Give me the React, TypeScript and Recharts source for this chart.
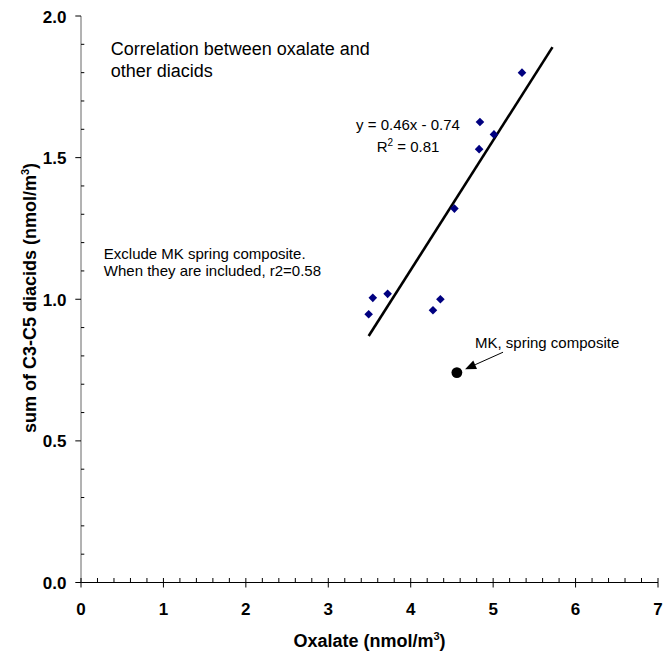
import { ScatterChart, Scatter, XAxis, YAxis, ReferenceLine } from "recharts";

// oxalate vs sum of C3-C5 diacids (nmol/m3), MK spring composite excluded from fit
const OXALATE = [5.35, 4.84, 5.01, 4.83, 4.53, 3.72, 3.54, 4.36, 3.49, 4.27];
const DIACIDS = [1.8, 1.626, 1.582, 1.53, 1.32, 1.019, 1.005, 1.0, 0.947, 0.961];

const MK_OXALATE = [4.56];
const MK_DIACIDS = [0.741];

// trendline end points as drawn
const FIT_X = [3.49, 5.72];
const FIT_Y = [0.87, 1.89];

// arrow pointing at the MK point
const ARROW_X = [5.12, 4.66];
const ARROW_Y = [0.813, 0.753];

const X_TICKS = [
  0, 0.2, 0.4, 0.6, 0.8, 1, 1.2, 1.4, 1.6, 1.8, 2, 2.2, 2.4, 2.6, 2.8, 3, 3.2,
  3.4, 3.6, 3.8, 4, 4.2, 4.4, 4.6, 4.8, 5, 5.2, 5.4, 5.6, 5.8, 6, 6.2, 6.4, 6.6,
  6.8, 7,
];
const Y_TICKS = [
  0, 0.1, 0.2, 0.3, 0.4, 0.5, 0.6, 0.7, 0.8, 0.9, 1, 1.1, 1.2, 1.3, 1.4, 1.5,
  1.6, 1.7, 1.8, 1.9, 2,
];

const FONT = "'Liberation Sans', Arial, Helvetica, sans-serif";

const points = OXALATE.map((x, i) => ({ x, y: DIACIDS[i] }));
const mkPoints = MK_OXALATE.map((x, i) => ({ x, y: MK_DIACIDS[i] }));
const fitPoints = FIT_X.map((x, i) => ({ x, y: FIT_Y[i] }));

function XTick(props: any) {
  const { x, y, payload } = props;
  const v = payload.value as number;
  const major = Math.abs(v - Math.round(v)) < 1e-6;
  return (
    <g>
      <line x1={x} x2={x} y1={y - 4.5} y2={major ? y + 5 : y} stroke="#000" />
      {major && (
        <text
          x={x}
          y={y + 32.5}
          textAnchor="middle"
          fontFamily={FONT}
          fontWeight="bold"
          fontSize={17}
          fill="#000"
        >
          {Math.round(v)}
        </text>
      )}
    </g>
  );
}

function YTick(props: any) {
  const { x, y, payload } = props;
  const v = payload.value as number;
  const major = Math.abs(v * 2 - Math.round(v * 2)) < 1e-6;
  return (
    <g>
      <line
        x1={major ? x - 5.7 : x}
        x2={major ? x : x + 3.3}
        y1={y}
        y2={y}
        stroke="#000"
      />
      {major && (
        <text
          x={x - 14.5}
          y={y + 6.5}
          textAnchor="end"
          fontFamily={FONT}
          fontWeight="bold"
          fontSize={17}
          fill="#000"
        >
          {v.toFixed(1)}
        </text>
      )}
    </g>
  );
}

function Diamond(props: any) {
  const { cx, cy } = props;
  const r = 4.3;
  return (
    <path
      d={`M${cx},${cy - r}L${cx + r},${cy}L${cx},${cy + r}L${cx - r},${cy}Z`}
      fill="#000080"
    />
  );
}

function Dot(props: any) {
  const { cx, cy } = props;
  return <circle cx={cx} cy={cy} r={5.4} fill="#000" />;
}

function Arrow(props: any) {
  const { x1, y1, x2, y2 } = props;
  const ang = Math.atan2(y2 - y1, x2 - x1);
  const len = 11;
  const half = 4.6;
  const bx = x2 - len * Math.cos(ang);
  const by = y2 - len * Math.sin(ang);
  const px = -Math.sin(ang) * half;
  const py = Math.cos(ang) * half;
  return (
    <g>
      <line x1={x1} y1={y1} x2={bx} y2={by} stroke="#000" strokeWidth={1} />
      <polygon
        points={`${x2},${y2} ${bx + px},${by + py} ${bx - px},${by - py}`}
        fill="#000"
      />
    </g>
  );
}

export default function App() {
  return (
    <div style={{ position: "absolute", left: 0, top: 0, background: "#fff" }}>
      <ScatterChart
        width={665}
        height={651}
        margin={{ top: 16, right: 7, bottom: 0, left: 0 }}
      >
        <XAxis
          type="number"
          dataKey="x"
          domain={[0, 7]}
          ticks={X_TICKS}
          interval={0}
          tickSize={0}
          tickMargin={0}
          tickLine={false}
          tick={XTick}
          height={68.5}
          stroke="#000"
          allowDataOverflow
        />
        <YAxis
          type="number"
          dataKey="y"
          domain={[0, 2]}
          ticks={Y_TICKS}
          interval={0}
          tickSize={0}
          tickMargin={0}
          tickLine={false}
          tick={YTick}
          width={81}
          stroke="#666"
          allowDataOverflow
        />
        <Scatter
          data={fitPoints}
          line={{ stroke: "#000", strokeWidth: 2.6 }}
          shape={() => <g />}
          isAnimationActive={false}
        />
        <Scatter
          data={points}
          shape={Diamond}
          fill="#000080"
          isAnimationActive={false}
        />
        <Scatter
          data={mkPoints}
          shape={Dot}
          fill="#000"
          isAnimationActive={false}
        />
        <ReferenceLine
          segment={[
            { x: ARROW_X[0], y: ARROW_Y[0] },
            { x: ARROW_X[1], y: ARROW_Y[1] },
          ]}
          shape={Arrow}
        />

        <text fontFamily={FONT} fontSize={18} fill="#000">
          <tspan x={110.7} y={55}>
            Correlation between oxalate and
          </tspan>
          <tspan x={110.7} y={76.7}>
            other diacids
          </tspan>
        </text>
        <text fontFamily={FONT} fontSize={15} fill="#000" textAnchor="middle">
          <tspan x={408} y={130}>
            y = 0.46x - 0.74
          </tspan>
          <tspan x={408} y={151.7}>
            R
            <tspan fontSize={10} dy={-6}>
              2
            </tspan>
            <tspan dy={6}> = 0.81</tspan>
          </tspan>
        </text>
        <text fontFamily={FONT} fontSize={15} fill="#000">
          <tspan x={103.8} y={258.7}>
            Exclude MK spring composite.
          </tspan>
          <tspan x={103.8} y={276.2}>
            When they are included, r2=0.58
          </tspan>
        </text>
        <text x={475} y={348} fontFamily={FONT} fontSize={15} fill="#000">
          MK, spring composite
        </text>

        <text
          x={369.5}
          y={646.5}
          textAnchor="middle"
          fontFamily={FONT}
          fontWeight="bold"
          fontSize={18}
          fill="#000"
        >
          Oxalate (nmol/m
          <tspan fontSize={11} dy={-7}>
            3
          </tspan>
          <tspan dy={7}>)</tspan>
        </text>
        <text
          x={36}
          y={298}
          transform="rotate(-90, 36, 298)"
          textAnchor="middle"
          fontFamily={FONT}
          fontWeight="bold"
          fontSize={18}
          fill="#000"
        >
          sum of C3-C5 diacids (nmol/m
          <tspan fontSize={11} dy={-7}>
            3
          </tspan>
          <tspan dy={7}>)</tspan>
        </text>
      </ScatterChart>
    </div>
  );
}
